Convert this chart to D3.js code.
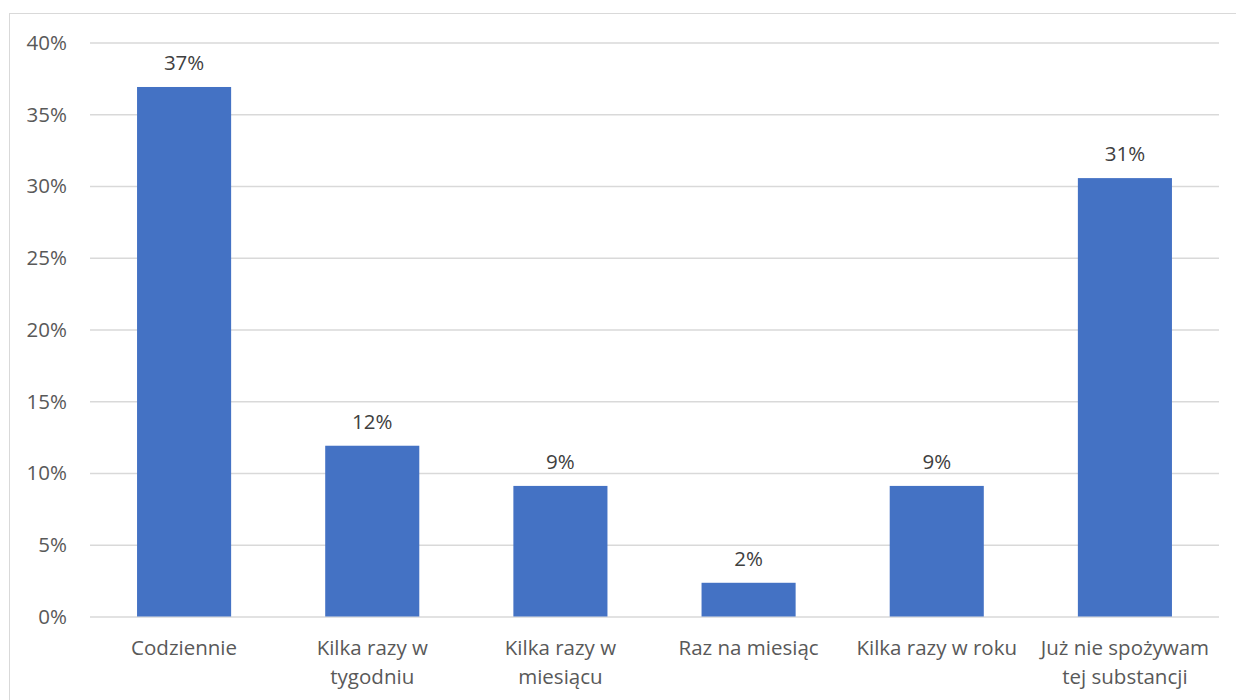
<!DOCTYPE html>
<html><head><meta charset="utf-8">
<script src="https://cdn.jsdelivr.net/npm/d3@7"></script>
<style>body{margin:0;background:#fff}svg{display:block}</style>
</head><body><svg id="c" width="1236" height="700"></svg>
<script>
const categories = [["Codziennie"],["Kilka razy w","tygodniu"],["Kilka razy w","miesiącu"],["Raz na miesiąc"],["Kilka razy w roku"],["Już nie spożywam","tej substancji"]];
const values = [0.369, 0.119, 0.091, 0.0235, 0.091, 0.3055];
const valueLabels = ["37%","12%","9%","2%","9%","31%"];
const yTicks = [0,0.05,0.10,0.15,0.20,0.25,0.30,0.35,0.40];
const yTickLabels = ["0%","5%","10%","15%","20%","25%","30%","35%","40%"];

const svg = d3.select("#c");
const font = "'Open Sans', 'Noto Sans', sans-serif";
const fs = "20.5px";
const m = {left:90, right:1219, top:42.5, bottom:616.5};

svg.append("rect").attr("x",9.5).attr("y",13.5).attr("width",1240).attr("height",700)
  .attr("fill","#fff").attr("stroke","#d9d9d9").attr("stroke-width",1);

const x = d3.scaleBand().domain(d3.range(categories.length)).range([m.left,m.right]).paddingInner(0.5).paddingOuter(0.25);
const y = d3.scaleLinear().domain([0,0.40]).range([m.bottom,m.top]);

const yAxis = d3.axisLeft(y).tickValues(yTicks).tickSize(-(m.right-m.left)).tickFormat((d,i)=>yTickLabels[i]);
const ga = svg.append("g").attr("transform",`translate(${m.left},0)`).call(yAxis);
ga.select(".domain").remove();
ga.selectAll(".tick line").attr("stroke","#d9d9d9").attr("stroke-width",1.3);
ga.selectAll(".tick text").attr("x",-23).attr("dy","0.34em").attr("fill","#595959").attr("font-family",font).attr("font-size",fs);

svg.append("g").selectAll("rect").data(values).join("rect")
  .attr("x",(d,i)=>x(i)).attr("width",x.bandwidth())
  .attr("y",d=>y(d)).attr("height",d=>y(0)-y(d))
  .attr("fill","#4472c4");

svg.append("g").selectAll("text").data(values).join("text")
  .attr("x",(d,i)=>x(i)+x.bandwidth()/2).attr("y",d=>y(d)-17)
  .attr("text-anchor","middle").attr("fill","#404040")
  .attr("font-family",font).attr("font-size",fs).text((d,i)=>valueLabels[i]);

const gc = svg.append("g");
categories.forEach((lines,i)=>{
  const t = gc.append("text").attr("text-anchor","middle").attr("fill","#595959")
    .attr("font-family",font).attr("font-size",fs);
  lines.forEach((l,j)=>t.append("tspan").attr("x",x(i)+x.bandwidth()/2).attr("y",655+j*29).text(l));
});
</script></body></html>
